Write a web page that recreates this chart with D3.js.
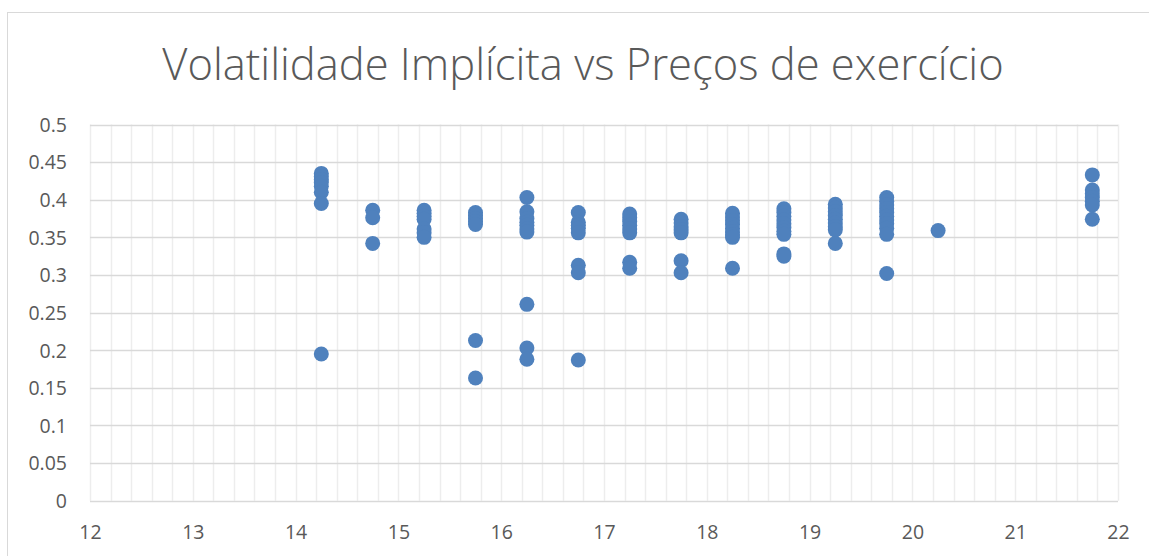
<!DOCTYPE html>
<html>
<head>
<meta charset="utf-8">
<script src="https://cdn.jsdelivr.net/npm/d3@7"></script>
<style>
  body { margin: 0; background: #fff; }
  svg { display: block; font-family: "Open Sans", "Liberation Sans", sans-serif; }
</style>
</head>
<body>
<script>
// chart size and plot area
var w = 1149;
var h = 556;
var plot = { left: 90, right: 1118, top: 124.5, bottom: 500.7 };

// strike prices and the implied vols read at each one
var strikes = [14.25, 14.75, 15.25, 15.75, 16.25, 16.75, 17.25, 17.75, 18.25, 18.75, 19.25, 19.75, 20.25, 21.75];
var vols = [
  [0.435, 0.431, 0.427, 0.423, 0.418, 0.41, 0.395, 0.195],
  [0.386, 0.376, 0.342],
  [0.386, 0.382, 0.378, 0.374, 0.361, 0.356, 0.35],
  [0.383, 0.379, 0.375, 0.371, 0.367, 0.213, 0.163],
  [0.403, 0.384, 0.375, 0.37, 0.366, 0.361, 0.357, 0.261, 0.203, 0.188],
  [0.383, 0.37, 0.366, 0.362, 0.356, 0.313, 0.303, 0.187],
  [0.381, 0.376, 0.371, 0.366, 0.361, 0.356, 0.317, 0.309],
  [0.374, 0.369, 0.364, 0.36, 0.356, 0.319, 0.303],
  [0.382, 0.377, 0.372, 0.367, 0.362, 0.357, 0.353, 0.35, 0.309],
  [0.388, 0.383, 0.378, 0.373, 0.368, 0.363, 0.358, 0.354, 0.328, 0.325],
  [0.394, 0.389, 0.384, 0.379, 0.374, 0.369, 0.364, 0.36, 0.342],
  [0.403, 0.398, 0.393, 0.388, 0.383, 0.378, 0.373, 0.368, 0.362, 0.354, 0.302],
  [0.359],
  [0.433, 0.413, 0.408, 0.403, 0.398, 0.393, 0.374]
];

// tick values
var xTicks = [12, 13, 14, 15, 16, 17, 18, 19, 20, 21, 22];
var yTicks = [0, 0.05, 0.1, 0.15, 0.2, 0.25, 0.3, 0.35, 0.4, 0.45, 0.5];

var title = "Volatilidade Implícita vs Preços de exercício";

// flatten into points
var points = [];
strikes.forEach(function(s, i) {
  vols[i].forEach(function(v) { points.push({ x: s, y: v }); });
});

var x = d3.scaleLinear().domain([12, 22]).range([plot.left, plot.right]);
var y = d3.scaleLinear().domain([0, 0.5]).range([plot.bottom, plot.top]);

var svg = d3.select("body").append("svg").attr("width", w).attr("height", h);

// chart border (cropped on the right and bottom)
svg.append("rect")
  .attr("x", 7.5).attr("y", 12.5)
  .attr("width", w + 20).attr("height", h + 20)
  .attr("fill", "none")
  .attr("stroke", "#d9d9d9");

// minor vertical gridlines every 0.2
var minor = d3.range(12, 22.0001, 0.2);
svg.append("g").selectAll("line")
  .data(minor)
  .enter().append("line")
  .attr("x1", function(d) { return Math.round(x(d)) + 0.5; })
  .attr("x2", function(d) { return Math.round(x(d)) + 0.5; })
  .attr("y1", plot.top)
  .attr("y2", plot.bottom)
  .attr("stroke", "#ededed")
  .attr("stroke-width", 1.5);

// horizontal gridlines
svg.append("g").selectAll("line")
  .data(yTicks)
  .enter().append("line")
  .attr("x1", plot.left)
  .attr("x2", plot.right)
  .attr("y1", function(d) { return Math.round(y(d)) + 0.5; })
  .attr("y2", function(d) { return Math.round(y(d)) + 0.5; })
  .attr("stroke", "#d9d9d9")
  .attr("stroke-width", 1.5);

// axes, labels only
var yAxis = svg.append("g")
  .attr("transform", "translate(" + (plot.left - 23) + ",0)")
  .call(d3.axisLeft(y).tickValues(yTicks).tickSize(0).tickPadding(0)
    .tickFormat(function(d) { return String(+d.toFixed(2)); }));

var xAxis = svg.append("g")
  .attr("transform", "translate(0," + (plot.bottom + 24) + ")")
  .call(d3.axisBottom(x).tickValues(xTicks).tickSize(0).tickPadding(0)
    .tickFormat(function(d) { return String(d); }));

[yAxis, xAxis].forEach(function(a) {
  a.select(".domain").remove();
  a.selectAll("text")
    .attr("fill", "#595959")
    .style("font-size", "19.5px")
    .style("font-family", "'Open Sans', 'Liberation Sans', sans-serif");
});
yAxis.selectAll("text").attr("dy", "0.35em");
xAxis.selectAll("text").attr("dy", "0.71em");

// the dots
svg.append("g").selectAll("circle")
  .data(points)
  .enter().append("circle")
  .attr("cx", function(d) { return x(d.x); })
  .attr("cy", function(d) { return y(d.y); })
  .attr("r", 7.5)
  .attr("fill", "#4f81bd");

// title
svg.append("text")
  .attr("x", 583)
  .attr("y", 80)
  .attr("text-anchor", "middle")
  .attr("fill", "#595959")
  .style("font-size", "43.5px")
  .style("font-weight", 300)
  .text(title);
</script>
</body>
</html>
